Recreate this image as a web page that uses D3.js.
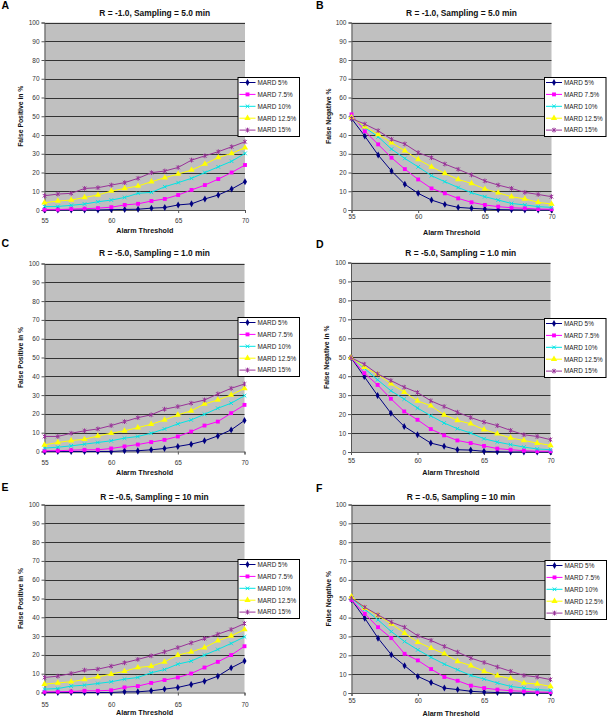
<!DOCTYPE html>
<html><head><meta charset="utf-8">
<script src="https://cdn.jsdelivr.net/npm/d3@7"></script>
<style>body{margin:0;background:#fff}svg{display:block}text{font-family:"Liberation Sans",Arial,sans-serif}</style>
</head><body><svg id="c" width="608" height="718"></svg>
<script>
const thresholds = [55,56,57,58,59,60,61,62,63,64,65,66,67,68,69,70];
const seriesNames = ["MARD 5%","MARD 7.5%","MARD 10%","MARD 12.5%","MARD 15%"];
const panelLetters = ["A","B","C","D","E","F"];
const panelTitles = ["R = -1.0, Sampling = 5.0 min","R = -1.0, Sampling = 5.0 min","R = -5.0, Sampling = 1.0 min","R = -5.0, Sampling = 1.0 min","R = -0.5, Sampling = 10 min","R = -0.5, Sampling = 10 min"];
const yTitles = ["False Positive in %","False Negative %","False Positive in %","False Negative in %","False Positive in %","False Negative %"];
const xTitle = "Alarm Threshold";
const xTickValues = [55,60,65,70];
const yTickValues = [0,10,20,30,40,50,60,70,80,90,100];

const valuesA = [
 [0,0,0,0,0,0.2,0.3,0.4,1,1.3,2.7,3.3,5.9,8,11.2,15.1],
 [0.2,0.2,0.5,0.7,1.0,1.5,2.7,3.3,4.8,5.9,8,10.7,13.3,16.5,20,24],
 [1.8,1.9,2.5,3.2,4.4,5.3,6.7,8.9,9.4,12.4,14.6,16.9,20,23,26,30.2],
 [3.9,4.8,5.3,6.7,8,10.1,11.5,12.8,15.1,17.2,19.2,21.3,24.5,28,30.2,33.2],
 [7.6,8.5,8.9,11.5,11.9,13.3,14.6,16.9,19.9,20.8,22.7,26.6,28.9,31.1,33.7,36.4]
];
const valuesB = [
 [48.8,39.4,29.3,20.8,13.7,8.9,5.3,3,1.4,0.9,0.5,0.2,0.1,0,0,0],
 [51,42,35,27.9,21.8,16.3,11.5,8.9,6.2,4.1,2.7,1.8,1.2,0.9,0.5,0.4],
 [49.7,44,39,32.5,27.5,23,18.3,15.1,12,9.2,7.1,5.3,3.5,2.7,1.8,1.4],
 [49.4,44.4,40.3,35.9,31.6,27,23,19.5,16.3,14.2,11.2,9.2,7.1,5.9,4.1,3.2],
 [48.8,45.8,42.3,37.7,35.2,30.6,27.9,24.5,21.7,18.7,15.5,13.3,11.5,9.4,8.3,7.1]
];
const valuesC = [
 [0,0,0,0,0,0,0.35,0.4,0.9,1.6,2.7,3.9,5.7,8.3,11.5,16.5],
 [0.4,0.4,0.7,0.9,0.9,1.6,2.7,3.7,5,6.2,8,10.6,13.8,15.9,20.4,24.8],
 [1.8,2.3,3,3.9,4.8,5.7,7.1,8,9.7,12,14.7,16.8,19.8,23,25.7,29.7],
 [3.5,4.8,5.8,6.5,8.3,9.7,11,12.7,14.5,16.8,19.5,21.6,25.3,27.4,30.1,33.6],
 [8,8,9.7,11,12,13.8,15.9,18,19.5,22.5,23.9,25.7,27.4,30.6,33.6,35.9]
];
const valuesD = [
 [49.8,39.8,29.8,20.5,13.5,9.1,4.7,3,1.2,1,0.35,0.1,0,0,0,0],
 [49.8,41.6,35.4,28.1,21.4,17,12.1,8.8,6.1,4.7,3.2,1.8,1.2,0.7,0.4,0.4],
 [49.8,44.2,38.1,32.3,27.9,23.2,19.1,15.3,12.3,10,7,5.3,3.9,2.6,1.6,1.2],
 [49.8,44.7,41,36,31.6,27,24.4,19.6,16.7,14.9,11.8,9.6,7.4,6.1,4.7,3.5],
 [49.8,46.3,41.2,37.7,34.2,31.4,27,24,21,18.2,15.8,13.9,11.4,9.1,8.2,6.5]
];
const valuesE = [
 [0,0,0,0,0,0,0.35,0.35,0.9,1.8,2.7,4.3,6,8.7,13.1,16.7],
 [0.35,0.4,0.5,0.9,0.9,1.2,2.7,3.4,5.1,6.6,8,10.1,13.3,16.3,19.9,24.6],
 [1.8,2.1,3.4,3.9,4.8,5.7,7.1,8,10.5,12.2,15.1,16.7,19.9,22.9,26.1,29.6],
 [4.4,5.1,5.7,6.9,8.3,9.8,11.3,13.3,14,16.3,19.9,21.6,23.9,27.5,30.1,33.5],
 [8,8.7,10.1,11.9,12.4,14,15.8,17.6,19.5,21.6,23.9,26.4,28.7,31,33.5,36.7]
];
const valuesF = [
 [49.4,39.7,29.1,20.3,14.5,8.8,5.6,2.6,1.8,0.9,0.5,0.2,0.1,0,0,0],
 [49.4,42,34.9,29.1,20.8,17.3,12.7,8.5,6.5,3.9,2.6,1.8,1.2,0.9,0.5,0.4],
 [50.3,44.4,38.8,32.6,27.3,22.9,18.9,15.3,12.3,9.3,7.4,5.3,3.5,2.6,1.8,1.4],
 [51.1,45,41.1,36.7,31.7,27,23.8,20.8,16.8,14.5,11.5,9.2,7.6,5.3,4.8,3.5],
 [50.3,45.5,41.4,37.6,34.9,30.3,27.9,24.7,21.7,18.5,16.2,13.8,11.5,9.3,8.5,7.1]
];
const allValues = [valuesA,valuesB,valuesC,valuesD,valuesE,valuesF];

// styling / layout
const colors = ["#000080","#ff00ff","#00e5e5","#ffff00","#993399"];
const markers = ["diamond","square","x","triangle","star"];
const layout = [
 {l:44.5,r:245,t:22.5,b:210,lx:238,ly:77.5,letter:[1.5,9],titleY:15.5,tickDy:12.5,xtY:233,ytX:20},
 {l:351.5,r:551.5,t:22.5,b:210,lx:544.5,ly:77.5,letter:[316,9],titleY:15.5,tickDy:8,xtY:235,ytX:328},
 {l:44.5,r:244.5,t:263.5,b:451.5,lx:238,ly:317.5,letter:[1.5,247],titleY:256,tickDy:13,xtY:474.5,ytX:20.5},
 {l:351,r:550.5,t:262.5,b:452,lx:544.5,ly:318.5,letter:[316,248],titleY:256,tickDy:10.5,xtY:475,ytX:326},
 {l:44.5,r:244.5,t:504.5,b:692.5,lx:238,ly:559.5,letter:[1.5,491],titleY:499.5,tickDy:13.5,xtY:715,ytX:20.5},
 {l:351.5,r:550.5,t:504.5,b:693,lx:545,ly:560.5,letter:[316,492],titleY:499.5,tickDy:9.5,xtY:715.5,ytX:328}
];

const svg = d3.select("#c");

function drawMarker(g, type, color, x, y){
  if(type==="diamond"){
    g.append("path").attr("d", d3.symbol(d3.symbolDiamond, 14)()).attr("transform",`translate(${x},${y})`).attr("fill",color);
  } else if(type==="square"){
    g.append("path").attr("d", d3.symbol(d3.symbolSquare, 15)()).attr("transform",`translate(${x},${y})`).attr("fill",color);
  } else if(type==="triangle"){
    g.append("path").attr("d", d3.symbol(d3.symbolTriangle, 17)()).attr("transform",`translate(${x},${y})`).attr("fill",color);
  } else if(type==="x"){
    g.append("path").attr("d","M-1.8,-1.8L1.8,1.8M-1.8,1.8L1.8,-1.8").attr("transform",`translate(${x},${y})`).attr("stroke",color).attr("stroke-width",1).attr("fill","none");
  } else {
    g.append("path").attr("d","M-1.8,-1.8L1.8,1.8M-1.8,1.8L1.8,-1.8M0,-2.4L0,2.4").attr("transform",`translate(${x},${y})`).attr("stroke",color).attr("stroke-width",1).attr("fill","none");
  }
}

allValues.forEach((vals, pi) => {
  const L = layout[pi];
  const g = svg.append("g");
  const x = d3.scaleLinear().domain([55,70]).range([L.l, L.r]);
  const y = d3.scaleLinear().domain([0,100]).range([L.b, L.t]);

  g.append("rect").attr("x",L.l).attr("y",L.t).attr("width",L.r-L.l).attr("height",L.b-L.t).attr("fill","#c0c0c0");
  // gridlines
  g.selectAll("line.grid").data(yTickValues.filter(v=>v>0)).enter().append("line")
    .attr("x1",L.l).attr("x2",L.r).attr("y1",d=>Math.round(y(d))+0.5).attr("y2",d=>Math.round(y(d))+0.5)
    .attr("stroke","#333").attr("stroke-width",1);

  // axes
  const yAxis = d3.axisLeft(y).tickValues(yTickValues).tickSize(3).tickPadding(2);
  const ya = g.append("g").attr("transform",`translate(${L.l},0)`).call(yAxis);
  const xAxis = d3.axisBottom(x).tickValues(xTickValues).tickSize(3).tickPadding(L.tickDy-7);
  const xa = g.append("g").attr("transform",`translate(0,${L.b})`).call(xAxis);
  [ya,xa].forEach(a=>{
    a.select(".domain").attr("stroke","#555");
    a.selectAll(".tick line").attr("stroke","#555");
    a.selectAll(".tick text").attr("font-size","6.5px").attr("fill","#333").attr("font-family","Liberation Sans, Arial, sans-serif");
  });

  // series
  const line = d3.line().x((d,i)=>x(thresholds[i])).y(d=>y(d));
  vals.forEach((s, si) => {
    g.append("path").attr("d", line(s)).attr("fill","none").attr("stroke",colors[si]).attr("stroke-width",1);
    const mg = g.append("g");
    s.forEach((v,i)=> drawMarker(mg, markers[si], colors[si], x(thresholds[i]), y(v)));
  });

  // titles
  g.append("text").attr("x",(L.l+L.r)/2+10).attr("y",L.titleY).attr("text-anchor","middle")
    .attr("font-size","8.4px").attr("font-weight","bold").attr("fill","#111").text(panelTitles[pi]);
  g.append("text").attr("x",(L.l+L.r)/2).attr("y",L.xtY).attr("text-anchor","middle")
    .attr("font-size","7.2px").attr("font-weight","bold").attr("fill","#111").text(xTitle);
  g.append("text").attr("transform",`translate(${L.ytX+2.5},${(L.t+L.b)/2}) rotate(-90)`).attr("text-anchor","middle")
    .attr("font-size","6.8px").attr("font-weight","bold").attr("fill","#111").text(yTitles[pi]);
  g.append("text").attr("x",L.letter[0]).attr("y",L.letter[1]).attr("font-size","10.5px").attr("font-weight","bold").attr("fill","#000").text(panelLetters[pi]);

  // legend
  const lg = g.append("g").attr("transform",`translate(${L.lx},${L.ly})`);
  lg.append("rect").attr("x",0).attr("y",0).attr("width",61.5).attr("height",59).attr("fill","#fff").attr("stroke","#000").attr("stroke-width",1);
  seriesNames.forEach((n, si) => {
    const yy = 5 + si*11.9;
    lg.append("line").attr("x1",1.5).attr("x2",17.5).attr("y1",yy).attr("y2",yy).attr("stroke",colors[si]).attr("stroke-width",1);
    drawMarker(lg, markers[si], colors[si], 9.5, yy);
    lg.append("text").attr("x",19.5).attr("y",yy+2.3).attr("font-size","6.4px").attr("fill","#222").text(n);
  });
});
</script>
</body></html>
